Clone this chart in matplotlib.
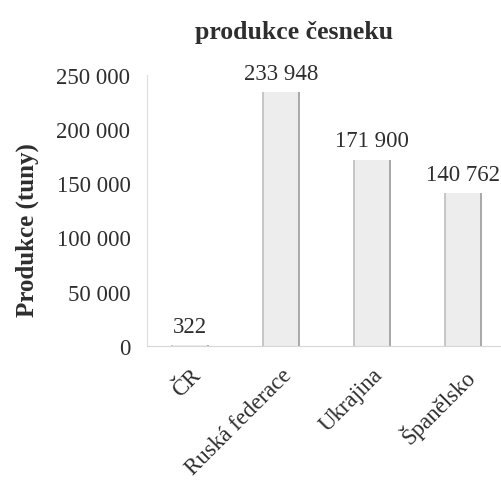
import matplotlib
matplotlib.use("Agg")
import matplotlib.pyplot as plt

# Garlic production by country (tonnes)
countries = ["ČR", "Ruská federace", "Ukrajina", "Španělsko"]
production = [322, 233948, 171900, 140762]
y_ticks = [0, 50000, 100000, 150000, 200000, 250000]


def fmt(v):
    return f"{v:,}".replace(",", " ")


plt.rcParams["font.family"] = ["Liberation Serif", "DejaVu Serif"]
text_color = "#2e2e2e"
fs = 16.5

fig = plt.figure(figsize=(5.02, 4.81), dpi=100)
ax = fig.add_axes([0.293, 0.279, 0.707, 0.563])

x = list(range(len(countries)))
width = 0.4
ax.bar(x, production, width=width, color="#ededed", edgecolor="none")
# darker side strokes on each column
ax.vlines([xi - width / 2 for xi in x], 0, production, color="#bdbdbd", linewidth=1.2)
ax.vlines([xi + width / 2 for xi in x], 0, production, color="#a8a8a8", linewidth=1.4)

for xi, v in zip(x, production):
    ax.annotate(fmt(v), (xi, v), xytext=(0, 6), textcoords="offset points",
                ha="center", va="bottom", fontsize=fs, color=text_color)

ax.set_xlim(-0.47, 3.43)
ax.set_ylim(0, 250000)
ax.set_yticks(y_ticks)
ax.set_yticklabels([fmt(t) for t in y_ticks], fontsize=fs, color=text_color)
ax.set_xticks(x)
ax.set_xticklabels(countries, rotation=45, ha="right", rotation_mode="anchor",
                   fontsize=fs, color=text_color)
ax.tick_params(axis="both", length=0)
ax.tick_params(axis="y", pad=12)
ax.tick_params(axis="x", pad=13)

for side in ("top", "right"):
    ax.spines[side].set_visible(False)
ax.spines["left"].set_color("#dddddd")
ax.spines["bottom"].set_color("#d6d6d6")

fig.text(0.054, 0.522, "Produkce (tuny)", rotation=90, ha="center", va="center",
         fontsize=18, fontweight="bold", color=text_color)
fig.text(0.586, 0.933, "produkce česneku", ha="center", va="center",
         fontsize=18.5, fontweight="bold", color=text_color)

fig.savefig("out.png", dpi=100)
